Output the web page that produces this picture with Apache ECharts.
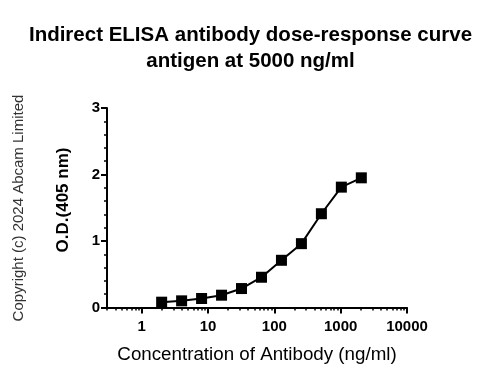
<!DOCTYPE html>
<html><head><meta charset="utf-8">
<script src="https://cdn.jsdelivr.net/npm/echarts@6/dist/echarts.min.js"></script>
<style>html,body{margin:0;padding:0;background:#fff}#c{width:501px;height:379px}</style>
</head><body><div id="c"></div>
<script>
const concentrations = [2, 4, 8, 16, 32, 64, 128, 256, 512, 1024, 2048];
const odValues = [0.08, 0.10, 0.135, 0.185, 0.285, 0.455, 0.71, 0.96, 1.41, 1.81, 1.95];
const xMajorTicks = [1, 10, 100, 1000, 10000];
const xMinorTicks = [0.3,0.4,0.5,0.6,0.7,0.8,0.9, 2,3,4,5,6,7,8,9, 20,30,40,50,60,70,80,90, 200,300,400,500,600,700,800,900, 2000,3000,4000,5000,6000,7000,8000,9000];
const titleLines = ['Indirect ELISA antibody dose-response curve', 'antigen at 5000 ng/ml'];
const yAxisTitle = 'O.D.(405 nm)';
const xAxisTitle = 'Concentration of Antibody (ng/ml)';
const copyrightText = 'Copyright (c) 2024 Abcam Limited';
const FONT = '"Liberation Sans", Arial, sans-serif';

const chart = echarts.init(document.getElementById('c'), null, {renderer: 'canvas'});
chart.setOption({
  animation: false,
  backgroundColor: '#fff',
  title: {
    text: titleLines.join('\n'),
    left: 'center', top: 17,
    textStyle: {fontFamily: FONT, fontSize: 20.5, fontWeight: 'bold', color: '#000', lineHeight: 26}
  },
  graphic: [{
    type: 'text', x: 19, y: 208, rotation: Math.PI / 2,
    style: {text: copyrightText, fontFamily: FONT, fontSize: 15, fill: '#333', align: 'center', verticalAlign: 'middle'}
  }, {
    type: 'text', x: 63, y: 200, rotation: Math.PI / 2,
    style: {text: yAxisTitle, fontFamily: FONT, fontSize: 17, fontWeight: 'bold', fill: '#000', align: 'center', verticalAlign: 'middle'}
  }],
  grid: {left: 107, top: 108, right: 94, bottom: 71.5, containLabel: false},
  xAxis: [{
    type: 'log', logBase: 10, min: 0.3, max: 10000,
    name: xAxisTitle, nameLocation: 'middle', nameGap: 38,
    nameTextStyle: {fontFamily: FONT, fontSize: 18.75, color: '#000'},
    axisLine: {lineStyle: {color: '#000', width: 2}},
    axisTick: {show: true, length: 6, lineStyle: {color: '#000', width: 2}, customValues: xMajorTicks},
    axisLabel: {customValues: xMajorTicks, margin: 12, fontFamily: FONT, fontSize: 15, fontWeight: 'bold', color: '#000', formatter: v => String(Math.round(v))},
    splitLine: {show: false}
  }, {
    type: 'log', logBase: 10, min: 0.3, max: 10000, position: 'bottom',
    axisLine: {show: false},
    axisTick: {show: true, length: 3, lineStyle: {color: '#000', width: 1.5}, customValues: xMinorTicks},
    axisLabel: {show: false}, splitLine: {show: false}
  }],
  yAxis: {
    type: 'value', min: 0, max: 3, interval: 1,
    axisLine: {show: true, lineStyle: {color: '#000', width: 2}},
    axisTick: {show: true, length: 6, lineStyle: {color: '#000', width: 2}},
    minorTick: {show: true, splitNumber: 5, length: 3, lineStyle: {color: '#000', width: 1.5}},
    axisLabel: {margin: 7, fontFamily: FONT, fontSize: 15, fontWeight: 'bold', color: '#000'},
    splitLine: {show: false}
  },
  series: [{
    type: 'line', xAxisIndex: 0,
    data: concentrations.map((c, i) => [c, odValues[i]]),
    symbol: 'rect', symbolSize: 11,
    lineStyle: {color: '#000', width: 2},
    itemStyle: {color: '#000'}
  }]
});
</script></body></html>
